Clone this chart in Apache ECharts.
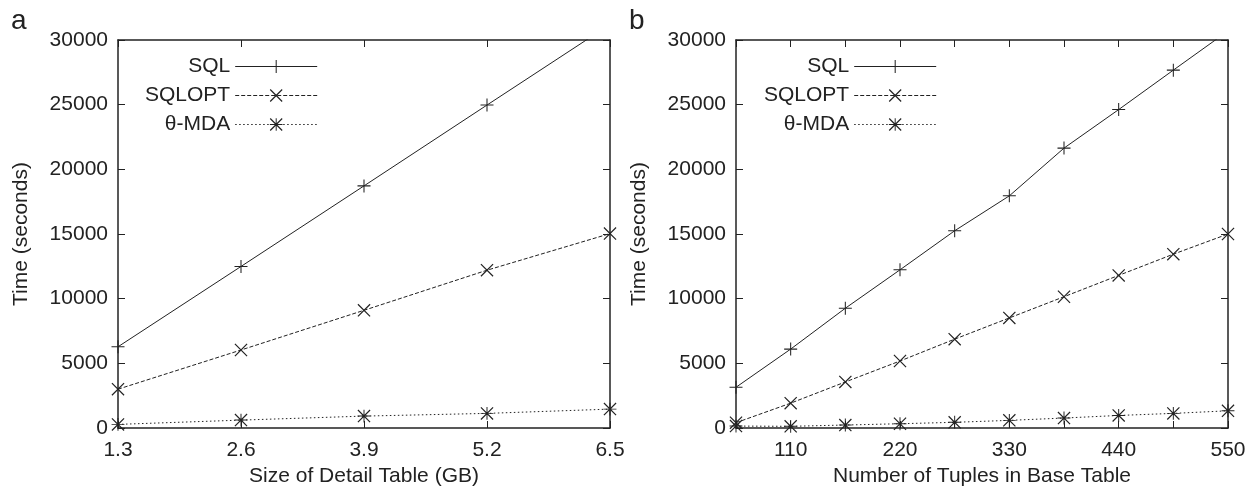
<!DOCTYPE html>
<html>
<head>
<meta charset="utf-8">
<script src="https://cdn.jsdelivr.net/npm/echarts@6/dist/echarts.min.js"></script>
<style>
  html, body { margin: 0; padding: 0; background: #fff; }
  #main { width: 1256px; height: 498px; }
</style>
</head>
<body>
<div id="main"></div>
<script>
// panel a: time vs detail table size
let sizeGB = [1.3, 2.6, 3.9, 5.2, 6.5];
let sqlA = [6280, 12490, 18720, 24970, 31200];
let sqloptA = [3000, 6030, 9100, 12200, 15030];
let mdaA = [280, 610, 920, 1130, 1460];

// panel b: time vs tuples in base table
let tuples = [55, 110, 165, 220, 275, 330, 385, 440, 495, 550];
let sqlB = [3150, 6100, 9260, 12230, 15250, 17950, 21640, 24620, 27670, 30700];
let sqloptB = [410, 1920, 3560, 5180, 6870, 8510, 10150, 11800, 13440, 15000];
let mdaB = [150, 130, 230, 330, 440, 590, 770, 970, 1130, 1330];

let names = ['SQL', 'SQLOPT', 'θ-MDA'];

// marker shapes (filled thin bars)
const plusPath = 'path://M0,46 L0,54 L100,54 L100,46 Z M46,0 L46,100 L54,100 L54,0 Z';
const crossPath = 'path://M-3.5,3.5 L96.5,103.5 L103.5,96.5 L3.5,-3.5 Z M96.5,-3.5 L-3.5,96.5 L3.5,103.5 L103.5,3.5 Z';
const starPath = 'path://M-3.5,3.5 L96.5,103.5 L103.5,96.5 L3.5,-3.5 Z M96.5,-3.5 L-3.5,96.5 L3.5,103.5 L103.5,3.5 Z M-3,46 L-3,54 L103,54 L103,46 Z M46,-3 L46,103 L54,103 L54,-3 Z';

const ink = '#222';
const font = 'Liberation Sans, Arial, sans-serif';
const fs = 21;

function pairs(xs, ys) {
  return xs.map((x, i) => [x, ys[i]]);
}

function makeSeries(idx, xs, ys) {
  let base = {
    type: 'line',
    xAxisIndex: idx * 2,
    yAxisIndex: idx * 2,
    symbolSize: 13,
    color: ink,
    clip: true,
    animation: false,
    emphasis: { disabled: true },
    itemStyle: { color: ink }
  };
  return [
    Object.assign({}, base, { name: 'SQL', data: pairs(xs, ys[0]), symbol: plusPath, lineStyle: { color: ink, width: 1, type: 'solid' } }),
    Object.assign({}, base, { name: 'SQLOPT', data: pairs(xs, ys[1]), symbol: crossPath, lineStyle: { color: ink, width: 1, type: [4, 2] } }),
    Object.assign({}, base, { name: 'θ-MDA', data: pairs(xs, ys[2]), symbol: starPath, lineStyle: { color: ink, width: 1, type: [1.5, 2.5] } })
  ];
}

function xAxes(grid, min, max, interval, name, fmt) {
  let common = {
    type: 'value', gridIndex: grid, min: min, max: max, interval: interval,
    axisLine: { show: true, onZero: false, lineStyle: { color: ink, width: 1.5 } },
    axisTick: { show: true, inside: true, length: 7, lineStyle: { color: ink, width: 1 } },
    splitLine: { show: false }
  };
  return [
    Object.assign({}, common, {
      position: 'bottom',
      name: name, nameLocation: 'middle', nameGap: 37,
      nameTextStyle: { color: ink, fontSize: fs, fontFamily: font },
      axisLabel: { color: ink, fontSize: fs, fontFamily: font, margin: 12, formatter: fmt, showMinLabel: true, showMaxLabel: true }
    }),
    Object.assign({}, common, { position: 'top', axisLabel: { show: false } })
  ];
}

function yAxes(grid) {
  let common = {
    type: 'value', gridIndex: grid, min: 0, max: 30000, interval: 5000,
    axisLine: { show: true, onZero: false, lineStyle: { color: ink, width: 1.5 } },
    axisTick: { show: true, inside: true, length: 7, lineStyle: { color: ink, width: 1 } },
    splitLine: { show: false }
  };
  return [
    Object.assign({}, common, {
      position: 'left',
      name: 'Time (seconds)', nameLocation: 'middle', nameGap: 86, nameRotate: 90,
      nameTextStyle: { color: ink, fontSize: fs, fontFamily: font },
      axisLabel: { color: ink, fontSize: fs, fontFamily: font, margin: 10, formatter: v => String(v) }
    }),
    Object.assign({}, common, { position: 'right', axisLabel: { show: false } })
  ];
}

function legendAt(left) {
  return {
    data: names,
    orient: 'vertical',
    align: 'right',
    left: left,
    top: 51,
    itemWidth: 82,
    itemHeight: 16,
    itemGap: 8,
    selectedMode: false,
    lineStyle: { width: 1 },
    textStyle: { color: ink, fontSize: fs, fontFamily: font }
  };
}

let chart = echarts.init(document.getElementById('main'));
chart.setOption({
  backgroundColor: '#fff',
  animation: false,
  title: [
    { text: 'a', left: 6, top: 2, textStyle: { color: ink, fontSize: 28, fontWeight: 'normal', fontFamily: font } },
    { text: 'b', left: 624, top: 2, textStyle: { color: ink, fontSize: 28, fontWeight: 'normal', fontFamily: font } }
  ],
  legend: [legendAt(140), legendAt(759)],
  grid: [
    { left: 118, top: 40, width: 492, height: 388 },
    { left: 736, top: 40, width: 492, height: 388 }
  ],
  xAxis: [].concat(
    xAxes(0, 1.3, 6.5, 1.3, 'Size of Detail Table (GB)', v => v.toFixed(1)),
    xAxes(1, 55, 550, 55, 'Number of Tuples in Base Table', v => (Math.round(v) % 110 === 0 ? String(Math.round(v)) : ''))
  ),
  yAxis: [].concat(yAxes(0), yAxes(1)),
  series: [].concat(
    makeSeries(0, sizeGB, [sqlA, sqloptA, mdaA]),
    makeSeries(1, tuples, [sqlB, sqloptB, mdaB])
  )
});
</script>
</body>
</html>
